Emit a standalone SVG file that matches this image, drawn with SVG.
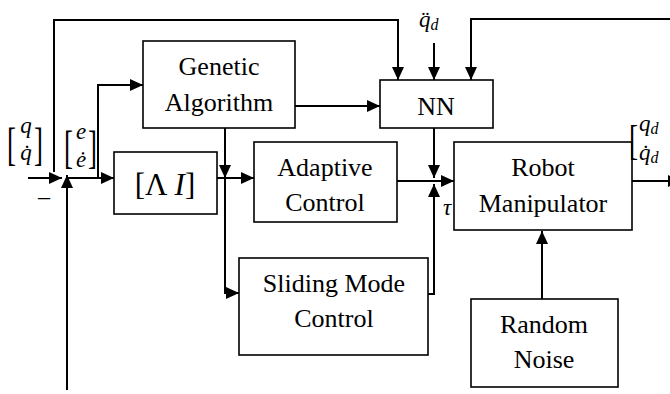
<svg xmlns="http://www.w3.org/2000/svg" width="670" height="394" viewBox="0 0 670 394">
<defs>
<style>
.box{fill:#fff;stroke:#000;stroke-width:1.6}
.ln{fill:none;stroke:#000;stroke-width:2}
.t{font-family:'Liberation Serif',serif;font-size:26px;text-anchor:middle;fill:#000}
.m{font-family:'Liberation Serif',serif;font-style:italic;fill:#000}
.br{font-family:'Liberation Serif',serif;font-size:27px;fill:#000}
</style>
<marker id="ah" markerWidth="14" markerHeight="14" refX="13" refY="6" orient="auto" markerUnits="userSpaceOnUse">
<path d="M0,0 L13,6 L0,12 z" fill="#000"/>
</marker>
</defs>
<rect width="670" height="394" fill="#fff"/>

<g id="connectors" class="ln">
<line x1="28" y1="178" x2="62" y2="178" marker-end="url(#ah)"/>
<line x1="67" y1="390" x2="67" y2="175" marker-end="url(#ah)"/>
<polyline points="54,172 54,20 398,20 398,80" marker-end="url(#ah)"/>
<line x1="68" y1="178" x2="114" y2="178" marker-end="url(#ah)"/>
<polyline points="98,178 98,85 143,85" marker-end="url(#ah)"/>
<line x1="295" y1="106" x2="380" y2="106" marker-end="url(#ah)"/>
<line x1="434" y1="43" x2="434" y2="80" marker-end="url(#ah)"/>
<polyline points="670,19 471,19 471,80" marker-end="url(#ah)"/>
<line x1="217" y1="178" x2="254" y2="178" marker-end="url(#ah)"/>
<line x1="225" y1="128" x2="225" y2="178" marker-end="url(#ah)"/>
<polyline points="225,176 225,293 239,293" marker-end="url(#ah)"/>
<line x1="397" y1="181" x2="454" y2="181" marker-end="url(#ah)"/>
<line x1="434" y1="128" x2="434" y2="178" marker-end="url(#ah)"/>
<polyline points="428,294 434,294 434,184" marker-end="url(#ah)"/>
<line x1="632" y1="181" x2="681" y2="181" marker-end="url(#ah)"/>
<line x1="542" y1="299" x2="542" y2="231" marker-end="url(#ah)"/>
</g>

<g id="ga">
<rect class="box" x="143" y="41" width="152" height="87"/>
<text class="t" x="219" y="75">Genetic</text>
<text class="t" x="219" y="111">Algorithm</text>
</g>
<g id="nn">
<rect class="box" x="380" y="80" width="113" height="48"/>
<text class="t" x="436" y="115">NN</text>
</g>
<g id="lambda">
<rect class="box" x="114" y="152" width="103" height="62"/>
<text class="t" x="165" y="195" style="font-size:31px">[Λ <tspan font-style="italic">I</tspan>]</text>
</g>
<g id="adaptive">
<rect class="box" x="254" y="142" width="143" height="80"/>
<text class="t" x="325" y="176">Adaptive</text>
<text class="t" x="325" y="211">Control</text>
</g>
<g id="smc">
<rect class="box" x="239" y="258" width="189" height="97"/>
<text class="t" x="334" y="292">Sliding Mode</text>
<text class="t" x="334" y="327">Control</text>
</g>
<g id="robot">
<rect class="box" x="454" y="142" width="178" height="88"/>
<text class="t" x="543" y="176">Robot</text>
<text class="t" x="543" y="212">Manipulator</text>
</g>
<g id="noise">
<rect class="box" x="471" y="299" width="147" height="88"/>
<text class="t" x="544" y="333">Random</text>
<text class="t" x="544" y="368">Noise</text>
</g>

<g id="labels">
<text class="br" transform="translate(7,160) scale(1,1.75)">[</text>
<text class="br" transform="translate(34,160) scale(1,1.75)">]</text>
<text class="m" x="26" y="133" font-size="23" text-anchor="middle">q</text>
<text class="m" x="26" y="160" font-size="23" text-anchor="middle">q̇</text>
<text class="m" x="44" y="204" font-size="24" font-style="normal" text-anchor="middle">–</text>
<text class="br" transform="translate(64,163) scale(1,1.75)">[</text>
<text class="br" transform="translate(88,163) scale(1,1.75)">]</text>
<text class="m" x="81" y="139" font-size="23" text-anchor="middle">e</text>
<text class="m" x="81" y="167" font-size="23" text-anchor="middle">ė</text>
<text class="m" x="419" y="27" font-size="23">q̈<tspan font-size="16" dy="3">d</tspan></text>
<text class="m" x="447" y="215" font-size="23" text-anchor="middle">τ</text>
<text class="br" transform="translate(629,154) scale(1,1.6)">[</text>
<text class="m" x="639" y="131" font-size="23">q<tspan font-size="16" dy="3">d</tspan></text>
<text class="m" x="639" y="160" font-size="23">q̇<tspan font-size="16" dy="3">d</tspan></text>
</g>
</svg>
